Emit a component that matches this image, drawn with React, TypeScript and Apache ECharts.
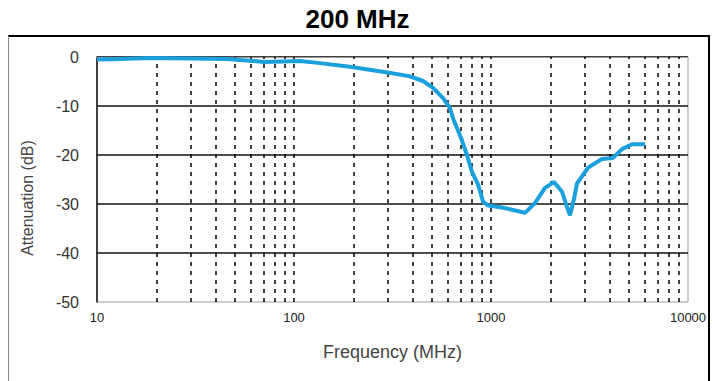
import React, { useEffect, useRef } from "react";
import * as echarts from "echarts";

const frequencies = [10, 13.1, 18.6, 29.6, 45.7, 70.4, 107, 132, 192, 293, 384, 452, 508, 571, 619, 641, 680, 712, 755, 801, 859, 911, 966, 1137, 1488, 1673, 1880, 2088, 2294, 2403, 2518, 2638, 2733, 3108, 3660, 4162, 4624, 5196, 6049];
const attenuation = [-0.5, -0.4, -0.2, -0.3, -0.4, -1, -0.8, -1.2, -2, -3.1, -3.9, -4.9, -6.3, -8.4, -10.4, -12.5, -15, -17, -20, -23.5, -26, -29.5, -30.3, -30.7, -31.8, -29.8, -26.7, -25.5, -27.5, -30, -32.3, -29, -25.8, -22.6, -20.8, -20.6, -18.8, -17.8, -17.8];
const gridFrequencies = [20, 30, 40, 50, 60, 70, 80, 90, 100, 200, 300, 400, 500, 600, 700, 800, 900, 1000, 2000, 3000, 4000, 5000, 6000, 7000, 8000, 9000];
const xTickLabels = [10, 100, 1000, 10000];
const yTicks = [0, -10, -20, -30, -40, -50];

const FONT = "'Liberation Sans', Arial, sans-serif";

export default function App() {
  const ref = useRef<HTMLDivElement>(null);
  useEffect(() => {
    if (!ref.current) return;
    const chart = echarts.init(ref.current, undefined, { renderer: "svg" });
    chart.setOption({
      animation: false,
      backgroundColor: "#ffffff",
      title: {
        text: "200 MHz",
        left: "center",
        top: 1,
        textStyle: { fontSize: 26, fontWeight: "bold", color: "#000", fontFamily: FONT },
      },
      grid: {
        left: 97,
        top: 57,
        width: 591,
        height: 245,
        show: true,
        borderColor: "#9a9a9a",
        borderWidth: 1,
        backgroundColor: "transparent",
      },
      xAxis: {
        type: "log",
        logBase: 10,
        min: xTickLabels[0],
        max: xTickLabels[xTickLabels.length - 1],
        name: "Frequency (MHz)",
        nameLocation: "middle",
        nameGap: 41,
        nameTextStyle: { fontSize: 18, color: "#444", fontFamily: FONT },
        axisLine: { show: true, lineStyle: { color: "#9a9a9a", width: 1 } },
        axisTick: { show: false },
        splitLine: { show: false },
        minorTick: { show: false },
        axisLabel: {
          fontSize: 13,
          color: "#222",
          margin: 9,
          fontFamily: FONT,
          formatter: (v: number) => String(Math.round(v)),
        },
      },
      yAxis: {
        type: "value",
        min: yTicks[yTicks.length - 1],
        max: yTicks[0],
        interval: 10,
        axisLine: { show: true, onZero: false, lineStyle: { color: "#111", width: 1.5 } },
        axisTick: { show: false },
        axisLabel: { fontSize: 16, color: "#333", margin: 18, fontFamily: FONT, padding: [0, 0, 6, 0] },
        splitLine: { show: true, showMinLine: false, lineStyle: { color: "#111", width: 1.5 } },
      },
      graphic: [
        {
          type: "line",
          shape: { x1: 8, y1: 36, x2: 710, y2: 36 },
          style: { stroke: "#000", lineWidth: 2 },
        },
        {
          type: "line",
          shape: { x1: 8.5, y1: 36, x2: 8.5, y2: 381 },
          style: { stroke: "#8a8a8a", lineWidth: 1 },
        },
        {
          type: "line",
          shape: { x1: 709, y1: 36, x2: 709, y2: 381 },
          style: { stroke: "#000", lineWidth: 2 },
        },
        {
          type: "text",
          x: 27,
          y: 198,
          rotation: Math.PI / 2,
          style: {
            text: "Attenuation (dB)",
            fontSize: 16,
            fill: "#444",
            fontFamily: FONT,
            align: "center",
            verticalAlign: "middle",
          },
        },
      ],
      series: [
        {
          type: "line",
          data: frequencies.map((f, i) => [f, attenuation[i]]),
          showSymbol: false,
          symbol: "none",
          smooth: false,
          lineStyle: { color: "#1aa0dd", width: 4 },
          z: 5,
          markLine: {
            silent: true,
            symbol: "none",
            label: { show: false },
            lineStyle: { color: "#000", type: [4, 5], width: 1.5 },
            data: gridFrequencies.map((f) => ({ xAxis: f })),
            z: 1,
          },
        },
      ],
    });
    return () => chart.dispose();
  }, []);
  return (
    <div
      ref={ref}
      style={{ position: "fixed", left: 0, top: 0, width: 715, height: 381 }}
    />
  );
}
